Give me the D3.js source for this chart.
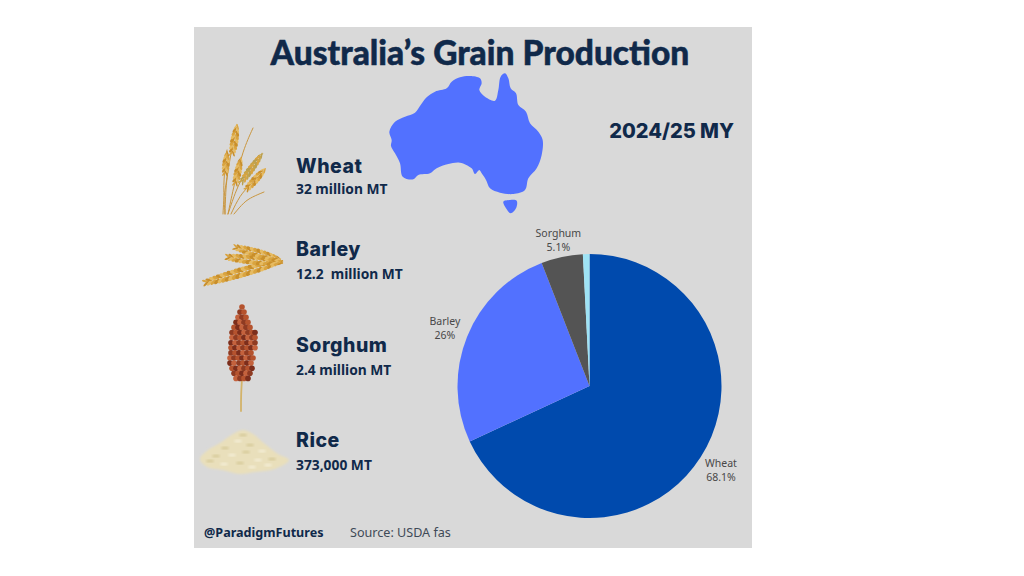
<!DOCTYPE html>
<html>
<head>
<meta charset="utf-8">
<script src="https://cdn.jsdelivr.net/npm/d3@7"></script>
<style>
  html, body { margin: 0; padding: 0; background: #fff; }
  svg { display: block; }
</style>
</head>
<body>
<svg id="chart"></svg>
<script>
const width = 1024;
const height = 576;

// data
const grains = ['Wheat', 'Barley', 'Sorghum', 'Rice'];
const shares = [68.1, 26, 5.1, 0.8];
const shareLabels = ['68.1%', '26%', '5.1%', ''];
const amounts = ['32 million MT', '12.2  million MT', '2.4 million MT', '373,000 MT'];

const sliceColors = ['#004aad', '#5271ff', '#545454', '#9fe3f5'];
const ink = '#10294a';

const svg = d3.select('#chart')
    .attr('width', width)
    .attr('height', height);

const defs = svg.append('defs');
defs.append('filter').attr('id', 'soft')
    .append('feGaussianBlur').attr('stdDeviation', 0.4);
defs.append('filter').attr('id', 'softer')
    .append('feGaussianBlur').attr('stdDeviation', 1.2);

// background card
svg.append('rect')
    .attr('x', 194).attr('y', 27)
    .attr('width', 558).attr('height', 521)
    .attr('fill', '#d9d9d9');

// title
svg.append('text')
    .attr('x', 480).attr('y', 65)
    .attr('text-anchor', 'middle')
    .attr('font-family', 'Lato')
    .attr('font-weight', 900)
    .attr('font-size', 33.5)
    .attr('stroke', ink)
    .attr('stroke-width', 0.5)
    .attr('fill', ink)
    .text('Australia\u2019s Grain Production');

svg.append('text')
    .attr('x', 734).attr('y', 138)
    .attr('text-anchor', 'end')
    .attr('font-family', 'Inter')
    .attr('font-weight', 800)
    .attr('font-size', 20)
    .attr('fill', ink)
    .text('2024/25 MY');

// map outline
const mainland = [[28,215],[45,185],[75,170],[105,158],[122,135],[140,112],[165,95],[200,85],[215,65],[240,52],[270,48],[300,55],[305,70],[298,90],[315,110],[345,122],[355,90],[362,50],[375,40],[385,55],[392,85],[408,100],[415,135],[438,155],[450,190],[475,215],[488,240],[485,285],[470,325],[445,355],[435,390],[400,402],[360,398],[330,385],[318,360],[305,340],[298,330],[285,342],[275,325],[240,308],[205,312],[170,325],[150,340],[115,345],[100,358],[68,350],[60,310],[45,280],[33,258],[35,240]];
const tasmania = [[370,425],[390,420],[410,422],[408,445],[392,460],[378,445]];
const mapLine = d3.line()
    .x(d => 380 + d[0] / 3)
    .y(d => 60 + d[1] / 3)
    .curve(d3.curveCatmullRomClosed.alpha(0.5));

svg.selectAll('.land')
    .data([mainland, tasmania]).enter()
    .append('path')
    .attr('class', 'land')
    .attr('d', mapLine)
    .attr('fill', '#5271ff');

// legend text
const nameY = [173, 256, 352, 447];
const amountY = [194, 279, 375, 470];

svg.selectAll('.grain-name')
    .data(grains).enter()
    .append('text')
    .attr('class', 'grain-name')
    .attr('x', 296)
    .attr('y', (d, i) => nameY[i])
    .attr('font-family', 'Inter')
    .attr('font-weight', 800)
    .attr('font-size', 19.5)
    .attr('letter-spacing', 0.5)
    .attr('fill', ink)
    .text(d => d);

svg.selectAll('.grain-amount')
    .data(amounts).enter()
    .append('text')
    .attr('class', 'grain-amount')
    .attr('x', 296)
    .attr('y', (d, i) => amountY[i])
    .attr('font-family', 'Noto Sans')
    .attr('font-weight', 700)
    .attr('font-size', 13.8)
    .attr('fill', ink)
    .style('white-space', 'pre')
    .text(d => d);

// footer
svg.append('text')
    .attr('x', 204).attr('y', 537)
    .attr('font-family', 'Noto Sans')
    .attr('font-weight', 700)
    .attr('font-size', 12.6)
    .attr('fill', ink)
    .text('@ParadigmFutures');

svg.append('text')
    .attr('x', 350).attr('y', 537)
    .attr('font-family', 'Noto Sans')
    .attr('font-size', 12.6)
    .attr('fill', '#3f4a57')
    .text('Source: USDA fas');

// pie
const pieX = 589.5;
const pieY = 386;
const pieR = 132;

const pie = d3.pie().sort(null).value(d => d);
const arc = d3.arc().innerRadius(0).outerRadius(pieR);
const slices = pie(shares);

const pieGroup = svg.append('g')
    .attr('transform', `translate(${pieX},${pieY})`);

pieGroup.selectAll('path')
    .data(slices).enter()
    .append('path')
    .attr('d', arc)
    .attr('fill', (d, i) => sliceColors[i]);

const labelRadius = [156, 156, 149];
const labelPos = (d, i) => {
    const mid = (d.startAngle + d.endAngle) / 2;
    return [Math.sin(mid) * labelRadius[i], -Math.cos(mid) * labelRadius[i]];
};

const pieLabels = pieGroup.selectAll('.pie-label')
    .data(slices.slice(0, 3)).enter()
    .append('text')
    .attr('class', 'pie-label')
    .attr('text-anchor', 'middle')
    .attr('font-family', 'Noto Sans')
    .attr('font-size', 10.5)
    .attr('fill', '#484848')
    .attr('transform', (d, i) => `translate(${labelPos(d, i)})`);

pieLabels.append('tspan')
    .attr('x', 0).attr('y', -3)
    .text((d, i) => grains[i]);
pieLabels.append('tspan')
    .attr('x', 0).attr('y', 11)
    .text((d, i) => shareLabels[i]);

// illustrations
function ear(g, x0, y0, x1, y1, n, w, colors) {
    const len = Math.hypot(x1 - x0, y1 - y0);
    const angle = Math.atan2(y1 - y0, x1 - x0) * 180 / Math.PI;
    const ux = (x1 - x0) / len, uy = (y1 - y0) / len;
    for (let k = 0; k < n; k++) {
        const t = (k + 0.5) / n;
        const taper = Math.pow(Math.sin(Math.PI * (0.08 + t * 0.88)), 0.6);
        [-1, 1].forEach((side, s) => {
            const cx = x0 + (x1 - x0) * t - uy * side * w * 0.45 * taper;
            const cy = y0 + (y1 - y0) * t + ux * side * w * 0.45 * taper;
            g.append('ellipse')
                .attr('cx', cx).attr('cy', cy)
                .attr('rx', len / n * 0.95).attr('ry', w * 0.36 * taper)
                .attr('transform', `rotate(${angle - side * 28},${cx},${cy})`)
                .attr('fill', colors[(k + s) % colors.length]);
        });
    }
}

function stem(g, pts, color, sw) {
    g.append('path')
        .attr('d', d3.line().curve(d3.curveBasis)(pts))
        .attr('fill', 'none')
        .attr('stroke', color)
        .attr('stroke-width', sw)
        .attr('stroke-linecap', 'round');
}

const gold = ['#d9a441', '#c98f2c', '#e6bb62'];

// wheat
const wheat = svg.append('g').attr('filter', 'url(#soft)');
[
    [[225,214],[226,180],[231,155],[235,128]],
    [[225,214],[223,185],[226,160],[227,150]],
    [[228,214],[234,185],[243,150],[253,128]],
    [[228,214],[236,190],[245,172],[259,155]],
    [[231,214],[240,195],[250,185],[263,172]],
    [[234,214],[244,202],[252,197],[264,192]],
    [[223,214],[224,195],[226,185],[228,170]]
].forEach(p => stem(wheat, p, '#c9963f', 1));
ear(wheat, 232, 155, 237, 125, 9, 4.5, gold);
ear(wheat, 225, 175, 227, 152, 7, 4, gold);
ear(wheat, 235, 185, 241, 158, 8, 4, gold);
ear(wheat, 241, 183, 262, 154, 10, 4, ['#c9a447', '#b9a050', '#d9a441']);
ear(wheat, 246, 190, 265, 169, 9, 4.5, gold);

// barley
const barley = svg.append('g').attr('filter', 'url(#soft)');
stem(barley, [[206,282],[225,275],[250,264],[281,261]], '#c9963f', 1);
ear(barley, 204, 283, 282, 261, 22, 6, gold);
ear(barley, 226, 257, 282, 263, 16, 5.5, gold);
ear(barley, 234, 247, 280, 259, 14, 5, gold);

// sorghum
const sorghum = svg.append('g').attr('filter', 'url(#soft)');
stem(sorghum, [[241,411],[241,395],[242,378],[243,360]], '#d3b36a', 1.8);
const sorghumColors = ['#b5532f', '#8f3a22', '#c4623c', '#7b2d1c'];
const sorghumRows = [[242],[240,244],[238,242,246],[236,240,244,248],[234,238,242,246,250],[232,236,240,244,248,252,255],[232,236,240,244,248,252,255],[231,235,239,243,247,251,255],[231,235,239,243,247,251,255],[231,235,239,243,247,251],[230,234,238,242,246,250,253],[230,234,239,243,247,251],[232,236,240,244,248,252],[234,238,242,246,250],[236,240,244,248]];
sorghumRows.forEach((row, r) => {
    row.forEach((x, c) => {
        sorghum.append('circle')
            .attr('cx', x)
            .attr('cy', 307 + r * 5.1)
            .attr('r', 2.8)
            .attr('fill', sorghumColors[(r + c * 3) % sorghumColors.length]);
    });
});

// rice
const rice = svg.append('g');
const ricePile = [[200,459],[208,450],[220,443],[233,434],[243,430],[253,434],[265,444],[278,454],[289,460],[275,469],[255,472],[240,474],[222,470],[207,467]];
rice.append('path')
    .attr('d', d3.line().curve(d3.curveCatmullRomClosed)(ricePile))
    .attr('fill', '#e9dfbb')
    .attr('filter', 'url(#softer)');
const riceSpecks = [[225,448],[238,441],[250,445],[262,451],[216,456],[232,455],[246,452],[258,460],[272,459],[224,464],[240,463],[252,467],[210,461],[268,465],[243,435]];
rice.selectAll('ellipse')
    .data(riceSpecks).enter()
    .append('ellipse')
    .attr('cx', d => d[0]).attr('cy', d => d[1])
    .attr('rx', 4).attr('ry', 1.6)
    .attr('fill', (d, i) => i % 2 ? '#f3ecd3' : '#d8cc9c')
    .attr('filter', 'url(#softer)');
</script>
</body>
</html>
